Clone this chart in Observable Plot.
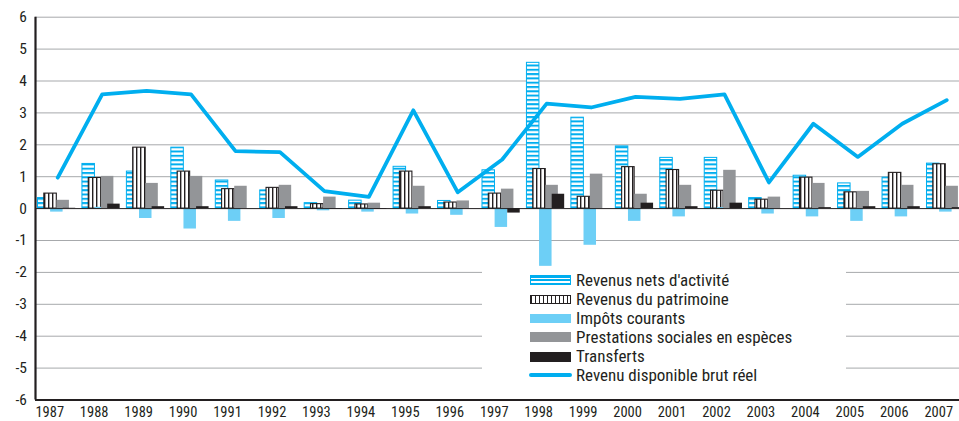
<!DOCTYPE html>
<html>
<head>
<meta charset="utf-8">
<script src="https://cdn.jsdelivr.net/npm/d3@7"></script>
<script src="https://cdn.jsdelivr.net/npm/@observablehq/plot@0.6"></script>
<style>
  html, body { margin: 0; padding: 0; background: #fff; }
  #wrap { position: relative; width: 959px; height: 421px; overflow: hidden;
    font-family: "Roboto Condensed", "Liberation Sans Narrow", "Arial Narrow", sans-serif; color: #231f20; }
  #legend { position: absolute; left: 482px; top: 267px; width: 364px; height: 128px; background: #fff; }
  .row { position: absolute; left: 0; height: 19px; width: 364px; }
  .sw { position: absolute; left: 48px; box-sizing: border-box; }
  .lab { position: absolute; left: 94px; top: 0; line-height: 19px; font-size: 17px; white-space: nowrap; }
</style>
</head>
<body>
<div id="wrap"></div>
<script>
const years = [1987,1988,1989,1990,1991,1992,1993,1994,1995,1996,1997,1998,1999,2000,2001,2002,2003,2004,2005,2006,2007];
const revenusActivite = [0.33,1.40,1.16,1.91,0.88,0.57,0.17,0.25,1.31,0.24,1.20,4.57,2.85,1.95,1.59,1.59,0.33,1.03,0.79,0.97,1.41];
const revenusPatrimoine = [0.47,0.96,1.91,1.16,0.61,0.65,0.14,0.13,1.16,0.19,0.47,1.24,0.37,1.30,1.21,0.56,0.28,0.97,0.51,1.12,1.39];
const impotsCourants = [-0.11,0.04,-0.31,-0.64,-0.40,-0.31,-0.07,-0.11,-0.17,-0.21,-0.59,-1.81,-1.15,-0.40,-0.26,0.03,-0.17,-0.26,-0.40,-0.26,-0.11];
const prestationsSociales = [0.26,1.01,0.79,1.01,0.70,0.73,0.36,0.17,0.70,0.24,0.61,0.73,1.08,0.45,0.73,1.20,0.36,0.79,0.54,0.73,0.70];
const transferts = [0.01,0.14,0.06,0.06,0.00,0.06,-0.02,-0.02,0.06,0.00,-0.14,0.45,0.00,0.17,0.06,0.17,0.00,0.03,0.06,0.06,0.03];
const revenuDisponible = [0.97,3.58,3.69,3.58,1.80,1.77,0.55,0.37,3.08,0.51,1.54,3.29,3.17,3.50,3.44,3.58,0.82,2.66,1.62,2.66,3.40];
const yTicks = [-6,-5,-4,-3,-2,-1,0,1,2,3,4,5,6];
const seriesNames = ["Revenus nets d'activité","Revenus du patrimoine","Impôts courants","Prestations sociales en espèces","Transferts","Revenu disponible brut réel"];

const BLUE = "#00aeef", LIGHT = "#6dcff6", GRAY = "#939598", BLACK = "#231f20";
const series = [
  {values: revenusActivite, fill: "url(#hstripes)", stroke: BLUE, sw: 1},
  {values: revenusPatrimoine, fill: "url(#vstripes)", stroke: BLACK, sw: 1.1},
  {values: impotsCourants, fill: LIGHT, stroke: "none", sw: 0},
  {values: prestationsSociales, fill: GRAY, stroke: "none", sw: 0},
  {values: transferts, fill: BLACK, stroke: "none", sw: 0}
];
// bar layout within each year band (in year units)
const first = 0.056, step = 0.142, barW = 0.281;
const tables = series.map((s, k) => years.map((yr, i) => ({
  year: yr, value: s.values[i],
  x1: yr - 0.5 + first + k * step, x2: yr - 0.5 + first + k * step + barW
})));
const lineData = years.map((yr, i) => ({year: yr, value: revenuDisponible[i]}));

function defs() {
  const g = document.createElementNS("http://www.w3.org/2000/svg", "defs");
  g.innerHTML = `
    <pattern id="hstripes" patternUnits="userSpaceOnUse" width="6" height="4.3">
      <rect width="6" height="4.3" fill="#fff"/><rect y="0" width="6" height="2" fill="${BLUE}"/>
    </pattern>
    <pattern id="vstripes" patternUnits="userSpaceOnUse" width="4" height="6">
      <rect width="4" height="6" fill="#fff"/><rect x="0" width="1.4" height="6" fill="${BLACK}"/>
    </pattern>`;
  return g;
}

const FONT = '"Roboto Condensed", "Liberation Sans Narrow", "Arial Narrow", sans-serif';

const chart = Plot.plot({
  width: 959, height: 421,
  marginLeft: 35, marginRight: 0, marginTop: 16.7, marginBottom: 21.5,
  style: {fontFamily: FONT, color: BLACK, background: "#fff"},
  x: {domain: [1986.5, 2007.5], range: [35, 35 + 21 * 44.45]},
  y: {domain: [-6, 6], range: [399.5, 16.7]},
  marks: [
    defs,
    Plot.gridY(yTicks.filter(d => d > -6 && d !== 0), {stroke: "#a7a9ac", strokeOpacity: 1, strokeWidth: 1}),
    ...series.map((s, k) => Plot.rectY(tables[k], {
      x1: "x1", x2: "x2", y1: 0, y2: "value",
      fill: s.fill, stroke: s.stroke, strokeWidth: s.sw
    })),
    Plot.ruleY([0], {stroke: BLACK, strokeWidth: 1}),
    Plot.line(lineData, {x: "year", y: "value", stroke: BLUE, strokeWidth: 3.8, strokeLinejoin: "round", strokeLinecap: "round"}),
    Plot.ruleX([1986.5], {y1: -6, y2: 6, stroke: BLACK, strokeWidth: 2.2}),
    Plot.ruleY([-6], {stroke: BLACK, strokeWidth: 2.2}),
    Plot.axisY({ticks: yTicks, tickSize: 0, tickPadding: 8.5, fontSize: 15.5, label: null, tickFormat: d => String(d)}),
    Plot.axisX({ticks: years, tickSize: 0, tickPadding: 6.5, fontSize: 14.5, dx: -8, label: null, tickFormat: d => String(d)})
  ]
});

const wrap = document.getElementById("wrap");
wrap.appendChild(chart);

// legend overlay (white box inside the plot area)
const legend = document.createElement("div");
legend.id = "legend";
const swatches = [
  {h: 10, css: `border:1.5px solid ${BLUE}; background: repeating-linear-gradient(to bottom, ${BLUE} 0 1.5px, #fff 1.5px 3.5px);`},
  {h: 9, css: `border:1.2px solid ${BLACK}; background: repeating-linear-gradient(to right, ${BLACK} 0 1.4px, #fff 1.4px 4px);`},
  {h: 9.5, css: `background:${LIGHT};`},
  {h: 10, css: `background:${GRAY};`},
  {h: 10, css: `background:${BLACK};`},
  {h: 3.2, css: `background:${BLUE}; border-radius:2px;`}
];
const rowCenters = [280, 299, 318.3, 337.3, 356.5, 375];
seriesNames.forEach((name, i) => {
  const row = document.createElement("div");
  row.className = "row";
  row.style.top = (rowCenters[i] - 267 - 9.5) + "px";
  const sw = document.createElement("div");
  sw.className = "sw";
  const w = i === 5 ? 43 : 41;
  sw.style.cssText += `width:${w}px;height:${swatches[i].h}px;top:${9.5 - swatches[i].h / 2}px;left:${i === 5 ? 47 : 48}px;` + swatches[i].css;
  const lab = document.createElement("div");
  lab.className = "lab";
  lab.textContent = name;
  row.appendChild(sw);
  row.appendChild(lab);
  legend.appendChild(row);
});
wrap.appendChild(legend);
</script>
</body>
</html>
